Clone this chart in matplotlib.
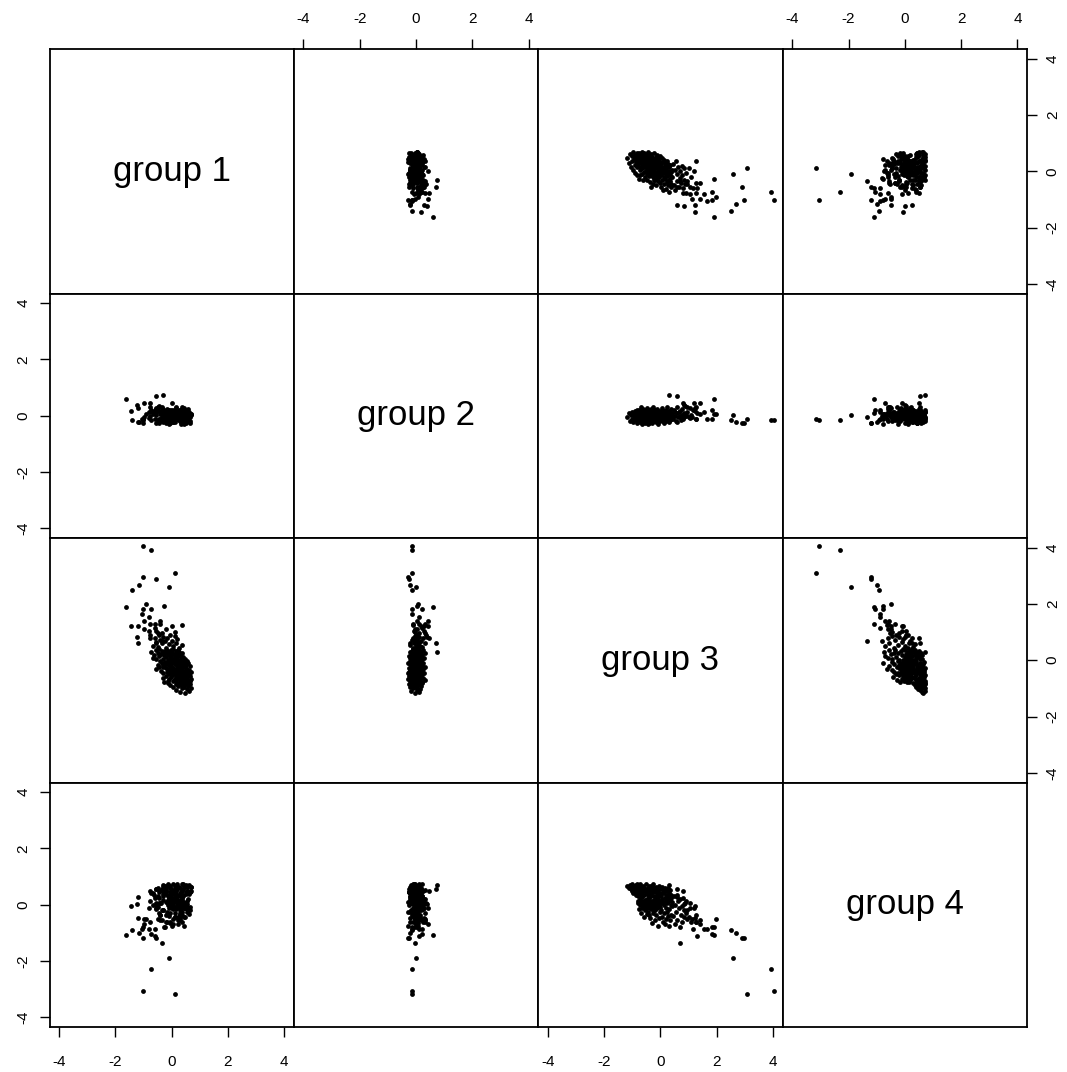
import matplotlib
matplotlib.use("Agg")
import matplotlib.pyplot as plt

plt.rcParams['font.family'] = ['Liberation Sans', 'DejaVu Sans']
plt.rcParams['axes.unicode_minus'] = False

labels = ["group 1", "group 2", "group 3", "group 4"]
ticks = [-4, -2, 0, 2, 4]
tick_labels = ["-4", "-2", "0", "2", "4"]

# ---- outlying points ----
out_g1 = [-1.03, -0.75, 0.12, -1.03, -0.57, -1.17, -0.11, -1.41, -1.64, -0.92,
          -1.02, -0.73, -0.29, -1.05, -0.82, -0.97, -1.46, -1.21, -0.78, -0.99,
          -0.59, -0.41, -1.22, 0.36, -0.61, -0.35, -1.21, -0.76, -0.55, -0.31,
          -0.76, -0.79, -0.47]
out_g2 = [-0.16, -0.15, -0.13, -0.27, -0.24, -0.22, 0.01, -0.16, 0.61, 0.06,
          -0.13, 0.22, 0.05, -0.13, 0.12, 0.44, 0.16, 0.27, 0.30, -0.05,
          0.10, 0.05, 0.39, -0.10, 0.20, -0.05, -0.22, 0.47, 0.71, 0.74,
          0.00, -0.08, 0.30]
out_g3 = [4.04, 3.91, 3.09, 2.96, 2.90, 2.68, 2.59, 2.49, 1.89, 1.98,
          1.82, 1.83, 1.92, 1.64, 1.55, 1.41, 1.23, 1.23, 1.28, 1.11,
          1.30, 1.39, 0.84, 1.25, 1.16, 0.69, 0.60, 0.80, 0.60, 0.30,
          0.90, 1.05, 0.95]
out_g4 = [-3.05, -2.29, -3.17, -1.19, -1.19, -0.99, -1.90, -0.91, -1.09, -0.49,
          -0.79, -1.05, -0.79, -0.87, -0.87, -0.69, -0.06, -0.48, -0.60, -0.49,
          -1.10, -0.55, 0.01, -0.62, -0.87, -1.36, 0.26, 0.50, 0.55, 0.70,
          0.13, -0.10, -0.51]

# ---- dense cloud ----
cl_g3 = [-1.18, -1.12, -1.08, -1.05, -1.02, -1.00, -0.98, -0.96, -0.94, -0.92,
         -0.90, -0.89, -0.87, -0.86, -0.85, -0.84, -0.83, -0.82, -0.81, -0.80,
         -0.79, -0.78, -0.77, -0.76, -0.75, -0.74, -0.73, -0.72, -0.71, -0.70,
         -0.69, -0.68, -0.67, -0.66, -0.65, -0.64, -0.63, -0.62, -0.61, -0.60,
         -0.59, -0.58, -0.57, -0.56, -0.55, -0.54, -0.53, -0.52, -0.51, -0.50,
         -0.49, -0.48, -0.48, -0.47, -0.46, -0.46, -0.45, -0.45, -0.44, -0.44,
         -0.43, -0.43, -0.42, -0.42, -0.42, -0.41, -0.41, -0.41, -0.40, -0.40,
         -0.78, -0.70, -0.62, -0.55, -0.47,
         -0.39, -0.38, -0.37, -0.36, -0.35, -0.34, -0.33, -0.32, -0.31, -0.30,
         -0.29, -0.28, -0.27, -0.26, -0.25, -0.24, -0.23, -0.22, -0.21, -0.20,
         -0.19, -0.18, -0.17, -0.16, -0.15, -0.14, -0.13, -0.12, -0.11, -0.10,
         -0.09, -0.08, -0.07, -0.06, -0.05, -0.04, -0.03, -0.02, -0.01, 0.00,
         -0.38, -0.35, -0.32, -0.29, -0.26, -0.23, -0.20, -0.17, -0.14, -0.11,
         -0.08, -0.05, -0.02, -0.36, -0.27, -0.18, -0.09, -0.30, -0.15, -0.04,
         0.01, 0.02, 0.03, 0.04, 0.05, 0.06, 0.07, 0.08, 0.09, 0.10,
         0.11, 0.12, 0.13, 0.14, 0.15, 0.16, 0.17, 0.18, 0.19, 0.20,
         0.21, 0.22, 0.23, 0.24, 0.25, 0.26, 0.27, 0.28, 0.29, 0.30,
         0.31, 0.32, 0.33, 0.34, 0.35, 0.36, 0.37, 0.38, 0.39, 0.40,
         0.42, 0.45, 0.48, 0.50, 0.52, 0.55, 0.58, 0.60, 0.62, 0.65,
         0.68, 0.70, 0.72, 0.75, 0.78, 0.80, 0.83, 0.85, 0.88, 0.90,
         0.95, 1.00, 1.05, 1.10, 1.20, 1.28]
cl_g1 = [0.46, 0.28, 0.62, 0.16, 0.54, 0.38, 0.70, 0.04, 0.42, 0.23,
         0.59, -0.06, 0.33, 0.50, 0.14, 0.65, 0.40, -0.14, 0.28, 0.56,
         0.22, 0.52, -0.26, 0.34, 0.66, 0.04, 0.40, -0.14, 0.58, 0.16,
         0.30, 0.50, -0.08, 0.70, 0.10, 0.38, -0.32, 0.23, 0.54, -0.02,
         0.45, 0.14, 0.64, -0.20, 0.28, 0.57, 0.02, 0.35, 0.20, 0.47,
         -0.10, 0.62, 0.09, 0.26, 0.42, -0.30, 0.16, 0.52, -0.03, 0.33,
         0.69, 0.06, 0.40, -0.18, 0.22, 0.54, -0.06, 0.28, 0.12, 0.48,
         0.38, 0.11, 0.46, 0.18, -0.02,
         0.04, 0.46, -0.38, 0.28, -0.14, 0.62, 0.14, -0.56, 0.34, -0.06,
         0.52, -0.20, 0.22, 0.06, -0.44, 0.40, -0.02, 0.64, -0.26, 0.18,
         0.30, -0.10, 0.50, -0.50, 0.10, 0.38, -0.18, 0.26, 0.58, -0.34,
         0.02, 0.42, 0.16, -0.22, 0.33, -0.08, 0.54, 0.11, -0.42, 0.23,
         -0.02, 0.16, -0.14, 0.38, 0.06, -0.30, 0.28, -0.06, 0.46, 0.14,
         -0.20, 0.21, 0.02, 0.54, 0.34, -0.32, 0.09, 0.26, -0.08, 0.40,
         -0.14, 0.28, -0.56, 0.06, 0.46, -0.32, 0.16, -0.06, -0.68, 0.34,
         -0.20, 0.10, 0.40, -0.44, -0.02, 0.22, -0.26, -0.10, 0.30, -0.62,
         0.04, -0.38, 0.16, -0.18, 0.38, -0.50, -0.08, 0.26, -0.30, 0.02,
         -0.74, 0.14, -0.14, -0.34, 0.22, -0.56, -0.03, -0.20, -0.44, 0.06,
         -0.20, 0.25, -0.50, 0.05, -0.65, 0.35, -0.10, -0.35, 0.15, -0.55,
         -0.25, 0.00, -0.40, 0.20, -0.15, -0.60, -0.30, 0.10, -0.45, -0.05,
         -0.35, 0.10, -0.55, -0.20, 0.00, -0.40]
cl_g4 = [0.66, 0.60, 0.70, 0.55, 0.48, 0.72, 0.62, 0.40, 0.68, 0.58,
         0.50, 0.65, 0.35, 0.70, 0.60, 0.45, 0.56, 0.72, 0.42, 0.64,
         0.30, 0.07, 0.59, -0.16, 0.45, 0.15, 0.72, -0.02, 0.20, 0.53,
         -0.29, 0.39, 0.11, 0.64, -0.11, 0.26, 0.49, 0.02, 0.68, 0.14,
         -0.42, 0.33, -0.07, 0.57, 0.17, -0.20, 0.41, 0.07, 0.72, -0.04,
         0.22, -0.33, 0.53, 0.11, -0.13, 0.37, 0.60, 0.05, 0.19, -0.24,
         0.49, -0.01, 0.30, 0.68, -0.09, 0.12, 0.45, -0.37, 0.26, 0.03,
         0.15, 0.39, 0.64, 0.08, 0.55,
         0.20, -0.11, 0.53, -0.46, 0.07, 0.39, 0.68, -0.16, 0.15, -0.64,
         -0.01, 0.49, -0.07, 0.72, -0.29, 0.11, 0.30, -0.18, 0.60, 0.05,
         -0.55, 0.19, 0.45, -0.09, 0.64, -0.37, 0.08, 0.33, -0.13, 0.53,
         0.02, -0.77, 0.26, 0.68, -0.04, 0.14, -0.24, 0.41, 0.07, -0.07,
         -0.02, 0.30, 0.11, 0.49, -0.16, 0.17, 0.05, 0.59, -0.11, 0.22,
         0.39, -0.46, 0.14, 0.02, 0.45, -0.20, 0.15, 0.64, -0.02, 0.33,
         0.30, -0.20, 0.55, 0.05, -0.45, 0.62, 0.20, -0.60, 0.40, 0.10,
         0.50, -0.30, 0.00, 0.45, 0.25, -0.70, 0.60, -0.10, 0.15, 0.35,
         -0.50, 0.05, 0.48, -0.25, 0.22, 0.58, -0.40, 0.10, 0.30, -0.75,
         0.40, -0.15, 0.18, 0.52, -0.55, 0.00, 0.35, -0.35, 0.25, -0.05,
         0.10, -0.40, 0.30, -0.70, 0.00, -0.25, 0.35, -0.55, 0.15, -0.10,
         -0.80, 0.20, -0.35, -0.05, -0.60, 0.25, -0.20, -0.45, 0.05, -0.30,
         -0.20, -0.45, 0.05, -0.60, -0.10, -0.35]
cl_g2 = [-0.05, 0.10, -0.18, 0.02, 0.15, -0.10, 0.05, -0.22, 0.00, 0.18,
         -0.08, 0.06, -0.15, 0.12, -0.02, -0.25, 0.08, 0.20, -0.12, 0.03,
         0.08, -0.15, 0.02, 0.20, -0.05, -0.22, 0.12, 0.00, -0.10, 0.30,
         -0.02, 0.15, -0.28, 0.05, -0.12, 0.10, 0.25, -0.06, 0.02, -0.18,
         0.14, -0.08, 0.06, -0.25, 0.18, 0.00, -0.14, 0.09, -0.04, 0.22,
         -0.20, 0.04, 0.12, -0.10, 0.28, -0.02, 0.07, -0.16, 0.16, -0.30,
         0.03, -0.07, 0.20, -0.12, 0.10, 0.00, -0.24, 0.13, -0.05, 0.06,
         -0.09, 0.11, -0.17, 0.01, 0.19,
         -0.10, 0.05, 0.18, -0.20, 0.00, 0.12, -0.06, 0.25, -0.15, 0.08,
         -0.25, 0.02, 0.14, -0.08, 0.30, -0.02, 0.10, -0.18, 0.06, -0.12,
         0.20, -0.04, 0.00, 0.16, -0.22, 0.09, -0.10, 0.04, 0.24, -0.16,
         0.07, -0.28, 0.12, -0.05, 0.02, 0.18, -0.08, 0.10, -0.20, 0.00,
         0.05, -0.10, 0.15, -0.03, 0.08, -0.14, 0.22, 0.00, -0.06, 0.12,
         -0.18, 0.04, 0.10, -0.08, 0.02, 0.16, -0.12, 0.06, -0.02, 0.14,
         0.10, -0.15, 0.02, 0.20, -0.08, 0.00, 0.28, -0.20, 0.06, -0.04,
         0.16, -0.12, 0.04, -0.25, 0.12, 0.00, -0.06, 0.22, -0.18, 0.08,
         -0.02, 0.14, -0.10, 0.05, 0.30, -0.14, 0.00, 0.10, -0.22, 0.06,
         0.18, -0.08, 0.02, -0.16, 0.12, 0.25, -0.05, 0.08, -0.12, 0.00,
         0.05, -0.12, 0.22, 0.00, 0.15, -0.20, 0.08, 0.30, -0.06, 0.12,
         -0.02, 0.18, -0.15, 0.04, 0.25, -0.10, 0.10, -0.04, 0.35, 0.02,
         0.12, -0.05, 0.28, 0.02, 0.44, -0.10]

g1 = out_g1 + cl_g1
g2 = out_g2 + cl_g2
g3 = out_g3 + cl_g3
g4 = out_g4 + cl_g4
variables = [g1, g2, g3, g4]
n = len(g1)
assert all(len(v) == n for v in variables), [len(v) for v in variables]

W, H = 1067, 1072
fig = plt.figure(figsize=(W / 100, H / 100), dpi=100)
left, right = 49.5 / W, 1027 / W
top, bottom = 1 - 49 / H, 1 - 1027 / H
gs = fig.add_gridspec(4, 4, left=left, right=right, top=top, bottom=bottom,
                      wspace=0, hspace=0)

lim = (-4.34, 4.34)
for i in range(4):
    for j in range(4):
        ax = fig.add_subplot(gs[i, j])
        ax.set_xlim(lim)
        ax.set_ylim(lim)
        for sp in ax.spines.values():
            sp.set_linewidth(1.3)
            sp.set_color('black')
        if i == j:
            ax.text(0, 0, labels[i], ha='center', va='center', fontsize=25)
        else:
            ax.scatter(variables[j], variables[i], s=12, c='black',
                       linewidths=0, marker='o')
        ax.set_xticks(ticks)
        ax.set_yticks(ticks)
        ax.set_xticklabels(tick_labels)
        ax.set_yticklabels(tick_labels)
        show_top = (i == 0 and j % 2 == 1)
        show_bottom = (i == 3 and j % 2 == 0)
        show_left = (j == 0 and i % 2 == 1)
        show_right = (j == 3 and i % 2 == 0)
        ax.tick_params(axis='x', top=show_top, labeltop=show_top,
                       bottom=show_bottom, labelbottom=show_bottom,
                       direction='out', length=7.5, width=1.0,
                       labelsize=11, pad=9)
        if show_bottom:
            ax.tick_params(axis='x', pad=13)
        ax.tick_params(axis='y', left=show_left, labelleft=show_left,
                       right=show_right, labelright=show_right,
                       direction='out', length=7.5, width=1.0,
                       labelsize=11, pad=6, labelrotation=90)
        for lab in ax.get_yticklabels():
            lab.set_va('center')

fig.savefig("out.png", dpi=100, facecolor='white')
